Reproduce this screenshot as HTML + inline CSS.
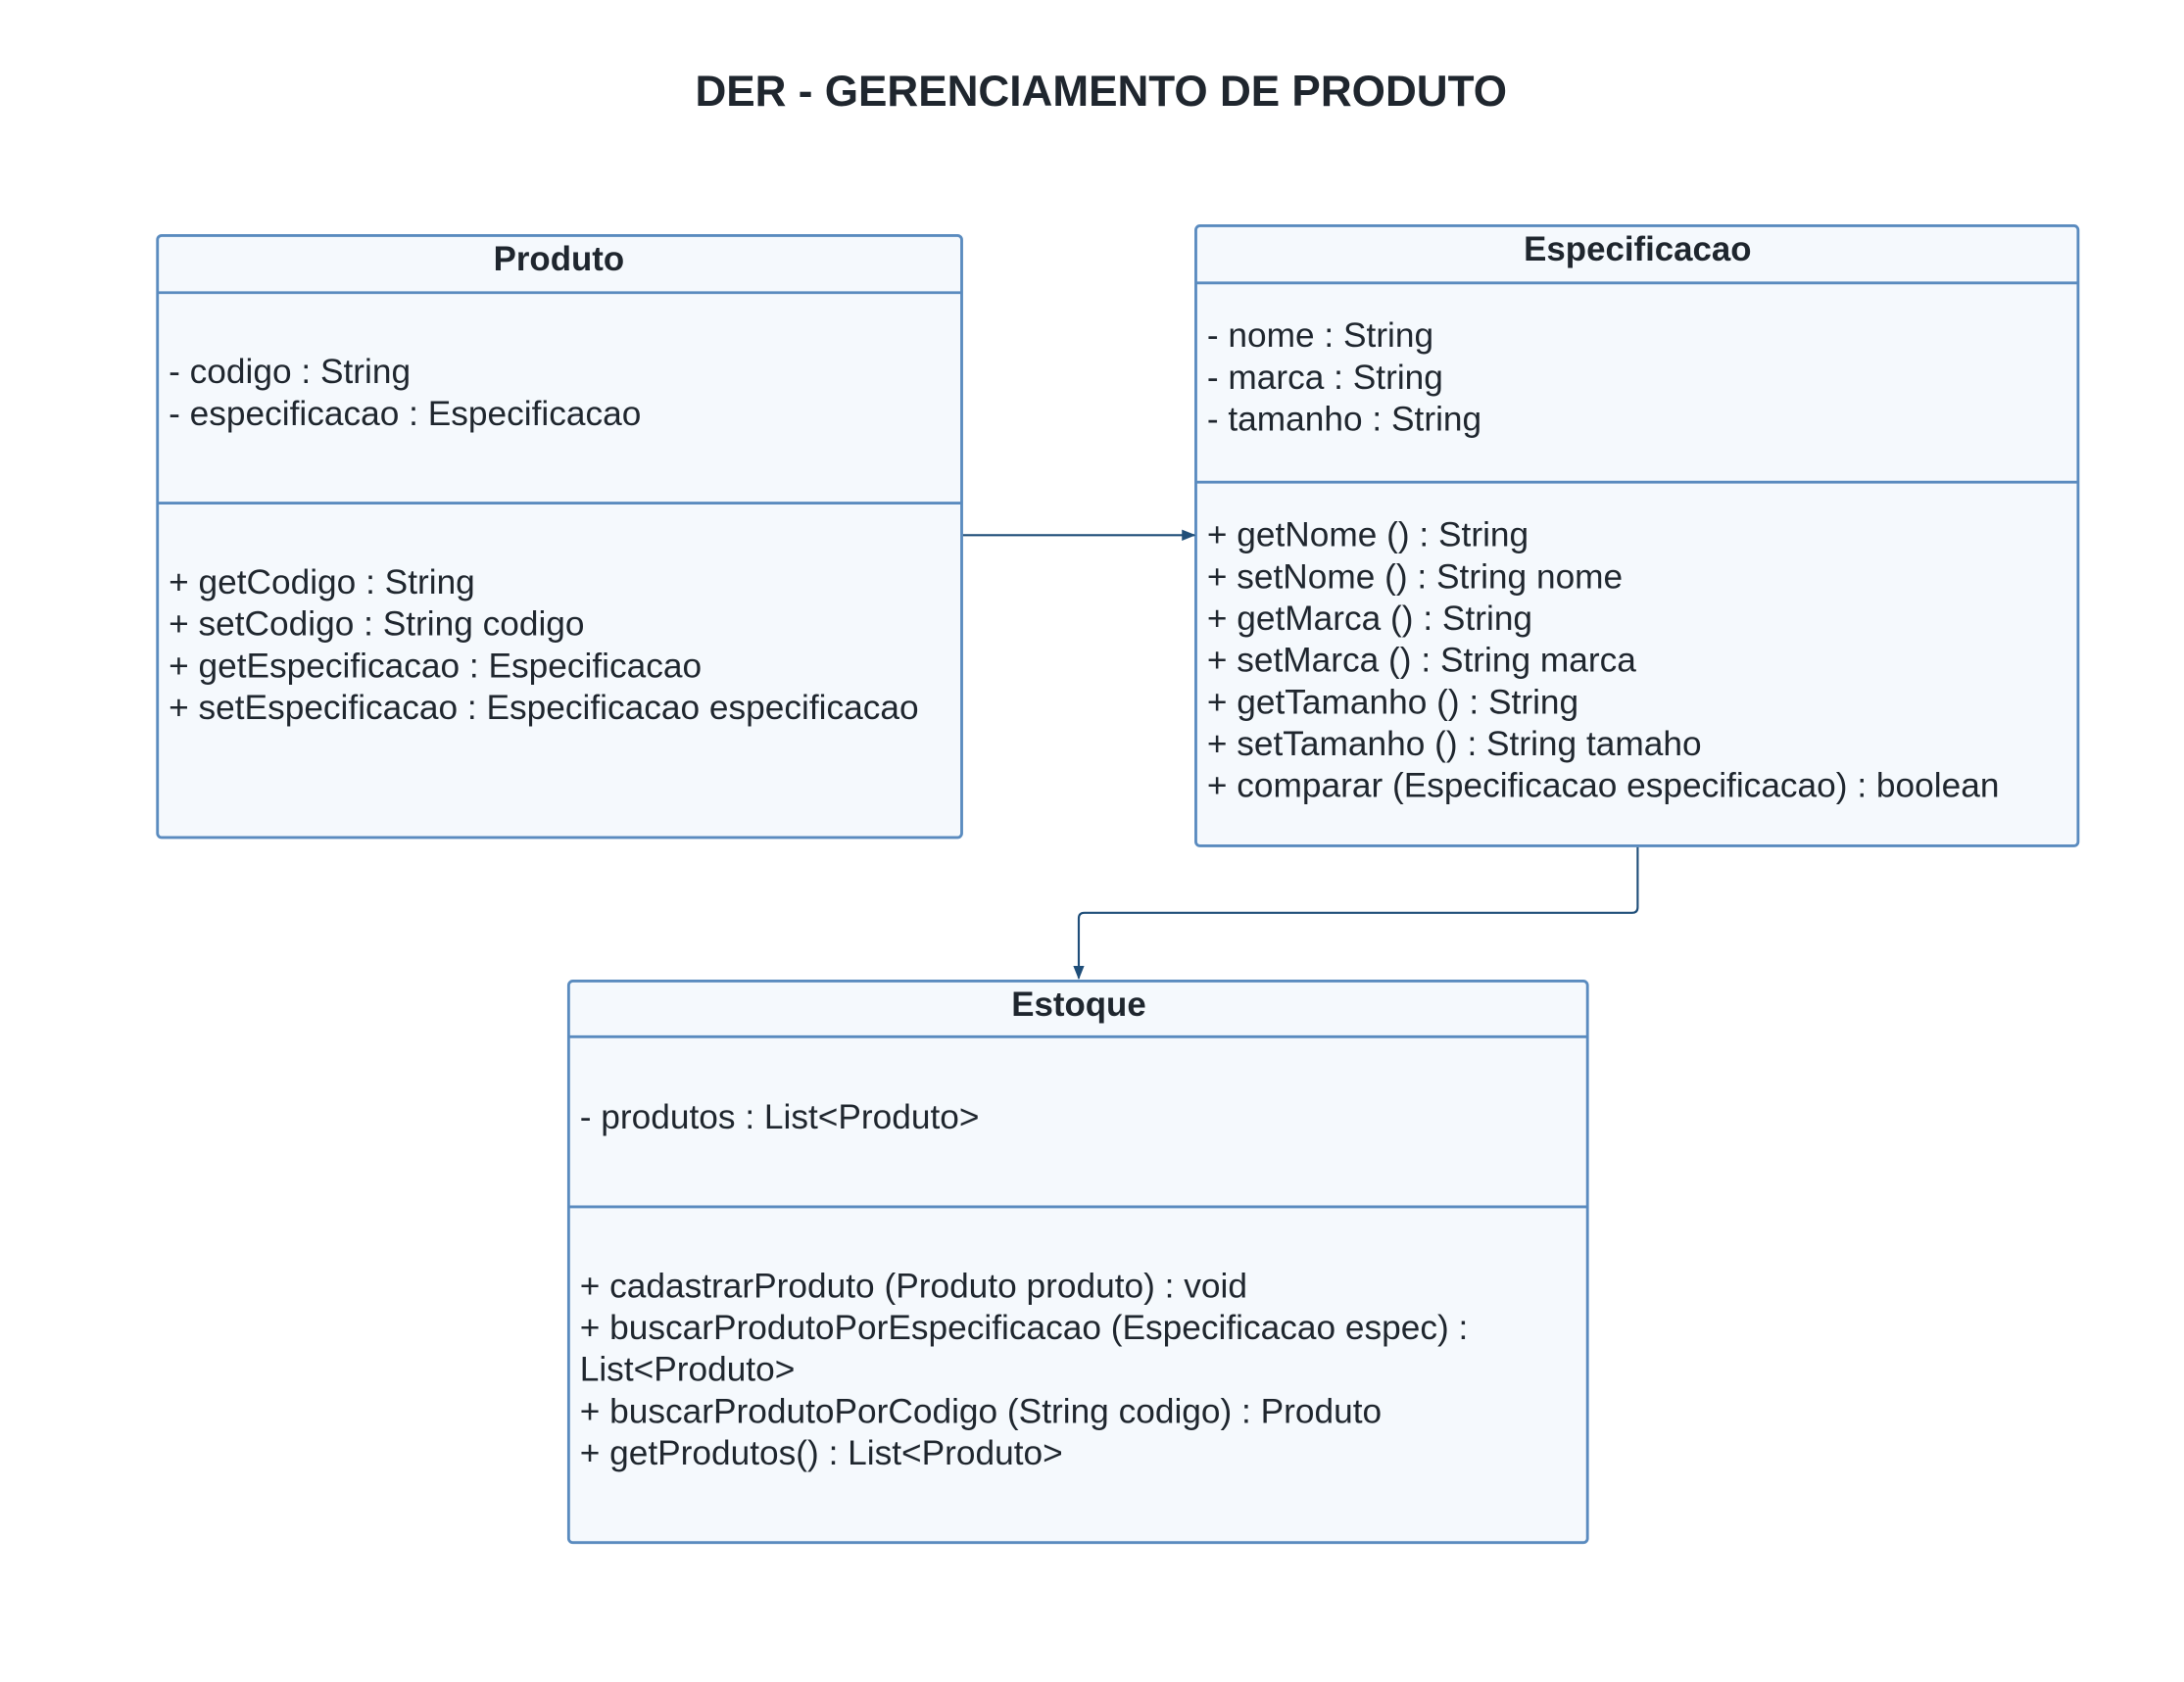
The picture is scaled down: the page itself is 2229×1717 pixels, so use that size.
<!DOCTYPE html>
<html><head><meta charset="utf-8"><style>
html,body{margin:0;padding:0;background:#fff;}
svg{display:block;}
text{font-family:"Liberation Sans",Arial,sans-serif;fill:#1f262e;}
.t{font-size:24.8px;}
.h{font-size:24.5px;font-weight:bold;text-anchor:middle;}
</style></head><body>
<svg width="2229" height="1717" viewBox="0 0 1567 1207" xmlns="http://www.w3.org/2000/svg">
<defs><marker id="a" markerWidth="10" markerHeight="10" refX="9" refY="5" orient="auto" markerUnits="userSpaceOnUse"><path d="M0,1 L10,5 L0,9 Z" fill="#1f4e79"/></marker></defs>
<text x="790" y="76" style="font-size:31px;font-weight:bold;text-anchor:middle">DER - GERENCIAMENTO DE PRODUTO</text>

<g fill="#f5f9fd" stroke="#5a8bbf" stroke-width="2">
<rect x="113" y="169" width="577" height="432" rx="3"/>
<rect x="858" y="162" width="633" height="445" rx="3"/>
<rect x="408" y="704" width="731" height="403" rx="3"/>
</g>
<g stroke="#5a8bbf" stroke-width="2">
<line x1="113" y1="210" x2="690" y2="210"/><line x1="113" y1="361" x2="690" y2="361"/>
<line x1="858" y1="203" x2="1491" y2="203"/><line x1="858" y1="346" x2="1491" y2="346"/>
<line x1="408" y1="744" x2="1139" y2="744"/><line x1="408" y1="866" x2="1139" y2="866"/>
</g>
<g fill="none" stroke="#1f4e79" stroke-width="1.5">
<line x1="691" y1="384" x2="857" y2="384" marker-end="url(#a)"/>
<path d="M1175,608 V651 Q1175,655 1171,655 H778 Q774,655 774,659 V702" marker-end="url(#a)"/>
</g>

<text class="h" x="401" y="194">Produto</text>
<text class="t" x="121" y="275">- codigo : String</text>
<text class="t" x="121" y="305">- especificacao : Especificacao</text>
<text class="t" x="121" y="426">+ getCodigo : String</text>
<text class="t" x="121" y="456">+ setCodigo : String codigo</text>
<text class="t" x="121" y="486">+ getEspecificacao : Especificacao</text>
<text class="t" x="121" y="516">+ setEspecificacao : Especificacao especificacao</text>

<text class="h" x="1175" y="187">Especificacao</text>
<text class="t" x="866" y="249">- nome : String</text>
<text class="t" x="866" y="279">- marca : String</text>
<text class="t" x="866" y="309">- tamanho : String</text>
<text class="t" x="866" y="392">+ getNome () : String</text>
<text class="t" x="866" y="422">+ setNome () : String nome</text>
<text class="t" x="866" y="452">+ getMarca () : String</text>
<text class="t" x="866" y="482">+ setMarca () : String marca</text>
<text class="t" x="866" y="512">+ getTamanho () : String</text>
<text class="t" x="866" y="542">+ setTamanho () : String tamaho</text>
<text class="t" x="866" y="572">+ comparar (Especificacao especificacao) : boolean</text>

<text class="h" x="774" y="729">Estoque</text>
<text class="t" x="416" y="810">- produtos : List&lt;Produto&gt;</text>
<text class="t" x="416" y="931">+ cadastrarProduto (Produto produto) : void</text>
<text class="t" x="416" y="961">+ buscarProdutoPorEspecificacao (Especificacao espec) :</text>
<text class="t" x="416" y="991">List&lt;Produto&gt;</text>
<text class="t" x="416" y="1021">+ buscarProdutoPorCodigo (String codigo) : Produto</text>
<text class="t" x="416" y="1051">+ getProdutos() : List&lt;Produto&gt;</text>
</svg>
</body></html>
